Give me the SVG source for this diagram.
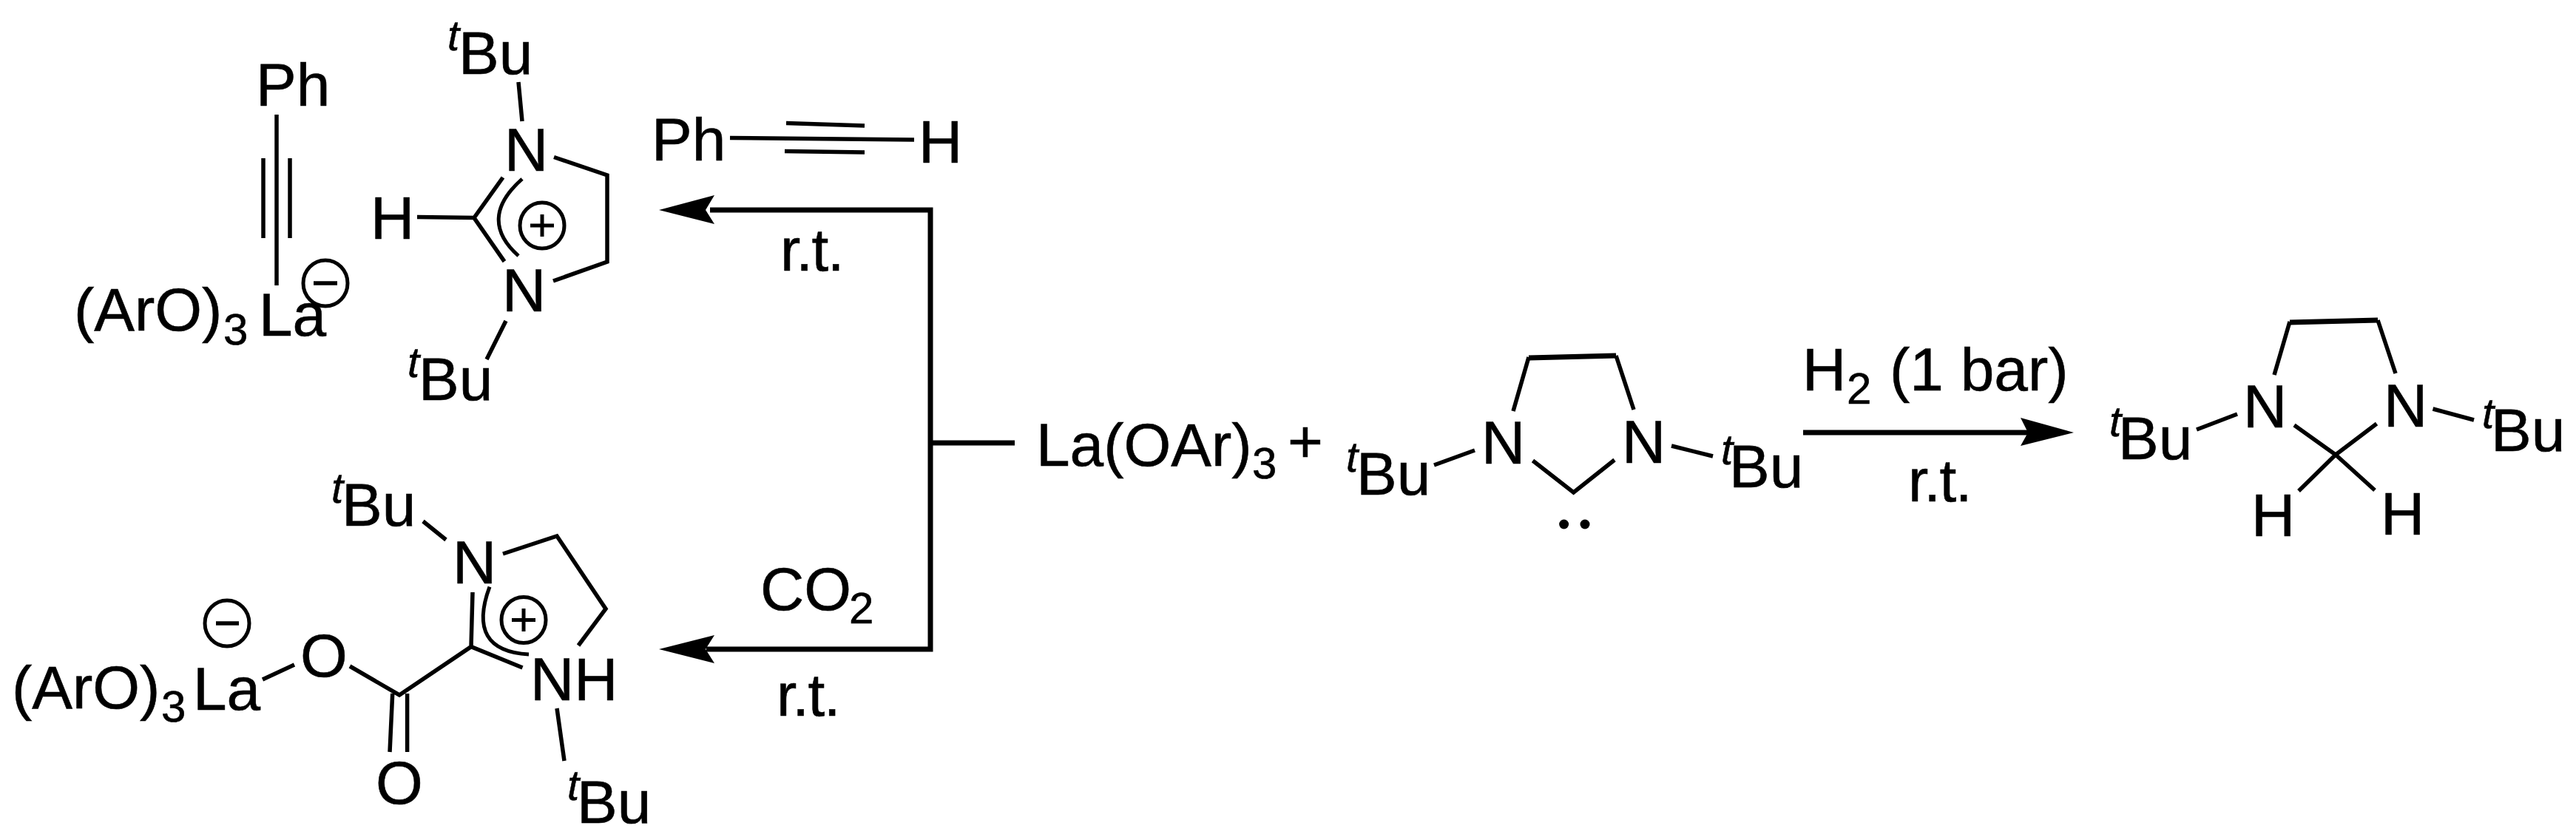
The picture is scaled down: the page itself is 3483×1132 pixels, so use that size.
<svg xmlns="http://www.w3.org/2000/svg" width="3483" height="1132" viewBox="0 0 3483 1132">
<style>
text{font-family:"Liberation Sans",Arial,sans-serif;font-size:82px;fill:#000;stroke:#000;stroke-width:.6}
.s{font-size:60px}
.t{font-size:58px;font-style:italic}
.r{letter-spacing:-1.5px}
.b{fill:none;stroke:#000;stroke-width:5.5}
.w{fill:none;stroke:#000;stroke-width:7}
.c{fill:none;stroke:#000;stroke-width:5}
.a{fill:none;stroke:#000;stroke-width:7}
.h{fill:#000;stroke:none}
</style>
<rect width="3483" height="1132" fill="#fff"/>
<g id="connectors">
<path class="a" d="M960 284H1258V878H955M1258 599H1372"/>
<path class="h" d="M891 284L966 264L954 284L966 303Z"/>
<path class="h" d="M891 878L966 859L954 878L966 897Z"/>
<path class="a" d="M2438 585H2745"/>
<path class="h" d="M2804 585L2732 565L2742 585L2732 603Z"/>
<text class="r" x="1055" y="366">r.t.</text>
<text class="r" x="1050" y="968">r.t.</text>
<text x="1028" y="825">CO<tspan class="s" x="1148" y="843">2</tspan></text>
<text x="2437" y="528">H<tspan class="s" x="2497" y="546">2</tspan><tspan x="2555" y="528">(1 bar)</tspan></text>
<text class="r" x="2580" y="678">r.t.</text>
</g>
<g id="la-alkynyl-product">
<path class="b" d="M374 155V386M356 214V322M392 214V322"/>
<ellipse class="c" cx="440" cy="383" rx="30" ry="31"/>
<path class="b" d="M424 383H456"/>
<text x="346" y="143">Ph</text>
<text x="100" y="447">(ArO)<tspan class="s" x="302" y="466">3</tspan><tspan x="350" y="454">La</tspan></text>
</g>
<g id="imidazolinium-top">
<path class="b" d="M701 111L706 164M749 212.500L821 237V354L748 380M684 434L658 486M564 293.600L641 294.600L680 240M641 294.600L682 353.600"/>
<path class="c" d="M706 242Q645 296 701 346"/>
<ellipse class="c" cx="733" cy="305" rx="30" ry="31"/>
<path class="c" d="M717 305H749M733 290V320"/>
<text x="682" y="231">N</text>
<text x="679" y="421">N</text>
<text x="501" y="323">H</text>
<text class="t" x="605" y="68">t</text>
<text x="620" y="100">Bu</text>
<text class="t" x="551" y="510">t</text>
<text x="566" y="541">Bu</text>
</g>
<g id="phenylacetylene">
<path class="b" d="M987 186.400L1236 189M1063 166.400L1169 170M1061 204.600L1169 206"/>
<text x="881" y="217">Ph</text>
<text x="1242" y="220">H</text>
</g>
<g id="carboxylate-product">
<path class="b" d="M572 705L603 730M680 749L753 725L819 823.500L782 873M639 801L637 874.600L706.500 903M637 874.600L540 940L473 901M355 919L398 899M530.700 938L527 1017M550.600 938V1017M753 958L763 1029"/>
<path class="c" d="M662 793.600Q630 880 715 885"/>
<ellipse class="c" cx="708" cy="838.500" rx="30" ry="31"/>
<path class="c" d="M692 838.500H724M708 823V854"/>
<ellipse class="c" cx="307" cy="843" rx="30" ry="31"/>
<path class="b" d="M292 843H323"/>
<text class="t" x="448" y="680">t</text>
<text x="462" y="711">Bu</text>
<text x="612" y="789">N</text>
<text x="717" y="947">NH</text>
<text class="t" x="767" y="1082">t</text>
<text x="780" y="1113">Bu</text>
<text x="508" y="1087">O</text>
<text x="406" y="915">O</text>
<text x="16" y="958">(ArO)<tspan class="s" x="218" y="976">3</tspan><tspan x="261" y="960">La</tspan></text>
</g>
<g id="la-oar3">
<text x="1401" y="630">La(OAr)<tspan class="s" x="1693" y="647">3</tspan></text>
<text x="1741" y="625">+</text>
</g>
<g id="carbene">
<path class="b" d="M1939 629L1994 609M2046 556L2067 483M2185 481L2209 554M2072.500 623L2127.600 666L2183 622M2260 603L2316 617"/>
<path class="w" d="M2067 484L2185 481"/>
<ellipse class="h" cx="2114.600" cy="709" rx="6.500" ry="6.500"/>
<ellipse class="h" cx="2143" cy="709" rx="6.500" ry="6.500"/>
<text class="t" x="1820" y="638">t</text>
<text x="1834" y="669">Bu</text>
<text x="2003" y="627">N</text>
<text x="2193" y="626">N</text>
<text class="t" x="2327" y="628">t</text>
<text x="2338" y="659">Bu</text>
</g>
<g id="hydrogenated-product">
<path class="b" d="M2970 581L3025 560M3075 507L3096 435M3215 433L3239 505M3102 575L3158 615L3213.500 573M3158 615L3108 664M3158 615L3211 663M3289.500 553L3345 568"/>
<path class="w" d="M3096 436L3215 433"/>
<text class="t" x="2852" y="590">t</text>
<text x="2864" y="621">Bu</text>
<text x="3033" y="578">N</text>
<text x="3223" y="577">N</text>
<text class="t" x="3356" y="579">t</text>
<text x="3368" y="610">Bu</text>
<text x="3044" y="725">H</text>
<text x="3219" y="723">H</text>
</g>
</svg>
